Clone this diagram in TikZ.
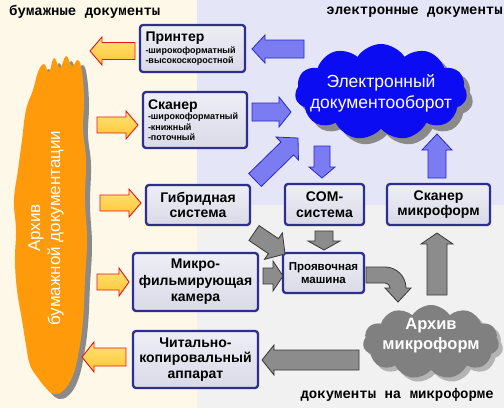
\documentclass[tikz,border=0pt]{standalone}
\usepackage{fontspec}
\setmainfont{Liberation Sans}
\setmonofont{Liberation Mono}
\usetikzlibrary{shapes.symbols,calc}

\definecolor{cream}{HTML}{FDF8E8}
\definecolor{lav}{HTML}{E4E6F8}
\definecolor{lgray}{HTML}{F1F1F1}
\definecolor{boxtop}{HTML}{EEEEF6}
\definecolor{boxbot}{HTML}{DADAE8}
\definecolor{boxborder}{HTML}{2E2E8E}
\definecolor{eblue}{HTML}{0C0CF2}
\definecolor{shadowgray}{HTML}{8A8A8A}
\definecolor{bfill}{HTML}{7C7CF2}
\definecolor{bdraw}{HTML}{2828C8}
\definecolor{gfill}{HTML}{8C8C8C}
\definecolor{gdraw}{HTML}{383838}
\definecolor{orangearch}{HTML}{FF9A0A}
\definecolor{mfgray}{HTML}{808080}
\definecolor{mfshadow}{HTML}{B4B4B4}
\definecolor{ytop}{HTML}{FFE27A}
\definecolor{ybot}{HTML}{FFC630}
\definecolor{yred}{HTML}{E8141A}

% block arrow: style, tail, tip, shaft half width, head half width, head length
\newcommand\blockarrow[6]{%
  \path[#1] let \p1=#2, \p2=#3,
     \n1={atan2((\y2)-(\y1),(\x2)-(\x1))},
     \n2={veclen((\x2)-(\x1),(\y2)-(\y1))} in
     [shift={(\p1)}, rotate=\n1]
     (0pt,-#4pt) -- (\n2-#6pt,-#4pt) -- (\n2-#6pt,-#5pt) -- (\n2,0pt)
     -- (\n2-#6pt,#5pt) -- (\n2-#6pt,#4pt) -- (0pt,#4pt) -- cycle;}

\begin{document}
\begin{tikzpicture}[x=1pt,y=-1pt,
  box/.style={draw=boxborder, line width=2.3pt, rounded corners=3pt,
    top color=boxtop, bottom color=boxbot, inner sep=0pt, align=center,
    font=\bfseries\fontsize{14}{15.5}\selectfont},
  listbox/.style={box, align=left, font=\bfseries\fontsize{9}{10.2}\selectfont},
  mono/.style={inner sep=0pt, font=\ttfamily\bfseries\fontsize{14}{14}\selectfont},
  yarrow/.style={draw=yred, line width=0.9pt, top color=ytop, bottom color=ybot},
  barrow/.style={draw=bdraw, line width=0.8pt, fill=bfill},
  garrow/.style={draw=gdraw, line width=0.8pt, fill=gfill},
  cloudbase/.style={cloud, cloud puffs=11, cloud puff arc=115, cloud ignores aspect, inner sep=0pt}
]
\useasboundingbox (0,0) rectangle (504,408);
% backgrounds
\fill[cream] (0,0) rectangle (197,408);
\fill[lav] (197,0) rectangle (504,205);
\fill[lgray] (197,205) rectangle (504,408);

% region labels
\node[mono, anchor=west] (lblpaper) at (9,12) {бумажные документы};
\node[mono, anchor=east] (lblelec) at (503,12) {электронные документы};
\node[mono, anchor=east] (lblmf) at (494,395) {документы на микроформе};

% paper archive
\fill[shadowgray, shift={(5,5)}] plot[smooth cycle, tension=0.7] coordinates {
 (33,90) (38,72) (44,64) (49,72) (54,58) (60,68) (66,56) (72,66) (78,60) (82,72)
 (84,100) (83,130) (86,160) (85,200) (87,240) (85,280) (83,320) (79,350) (73,375)
 (64,390) (54,394) (46,388) (38,378) (30,365) (26,345) (22,320) (17,290) (15,260)
 (16,230) (14,200) (18,170) (22,140) (26,110)};
\fill[orangearch] plot[smooth cycle, tension=0.7] coordinates {
 (33,90) (38,72) (44,64) (49,72) (54,58) (60,68) (66,56) (72,66) (78,60) (82,72)
 (84,100) (83,130) (86,160) (85,200) (87,240) (85,280) (83,320) (79,350) (73,375)
 (64,390) (54,394) (46,388) (38,378) (30,365) (26,345) (22,320) (17,290) (15,260)
 (16,230) (14,200) (18,170) (22,140) (26,110)};
\node[rotate=90, text=white, align=center, font=\fontsize{17}{20}\selectfont] (paperarch) at (46,228)
  {Архив\\бумажной документации};

% electronic cloud
\node[cloudbase, fill=shadowgray, minimum width=172, minimum height=96] (eshadow) at (387,98) {};
\node[cloudbase, fill=eblue, minimum width=172, minimum height=96] (ecloud) at (381,92) {};
\node[text=white, align=center, font=\fontsize{17.5}{21}\selectfont] (etext) at (381,93)
  {Электронный\\документооборот};

% microform cloud
\node[cloudbase, fill=mfshadow, minimum width=136, minimum height=74] (mshadow) at (435,346) {};
\node[cloudbase, fill=mfgray, minimum width=136, minimum height=74] (mcloud) at (431,342) {};
\node[text=white, align=center, font=\bfseries\fontsize{16.5}{20}\selectfont] (mtext) at (431,336)
  {Архив\\микроформ};

% boxes
\node[listbox, minimum width=105, minimum height=47, text width=94] (printer) at (192.5,48.5)
  {{\fontsize{14}{14}\selectfont Принтер}\\[1.5pt]-широкоформатный\\-высокоскоростной};
\node[listbox, minimum width=104, minimum height=56, text width=94] (scanner) at (195,120)
  {{\fontsize{14}{14}\selectfont Сканер}\\[0.5pt]-широкоформатный\\-книжный\\-поточный};
\node[box, minimum width=104, minimum height=40] (hybrid) at (198,205) {Гибридная\\система};
\node[box, minimum width=79, minimum height=41] (com) at (324.5,204.5) {COM-\\система};
\node[box, minimum width=103, minimum height=41] (scanmf) at (438.5,204.5) {Сканер\\микроформ};
\node[box, minimum width=125, minimum height=58, font=\bfseries\fontsize{14}{16.5}\selectfont] (camera) at (195.5,282)
  {Микро-\\фильмирующая\\камера};
\node[box, minimum width=81, minimum height=40, font=\bfseries\fontsize{11.5}{12.5}\selectfont] (develop) at (323.5,273)
  {Проявочная\\машина};
\node[box, minimum width=125, minimum height=57] (reader) at (195.5,359.5)
  {Читально-\\копировальный\\аппарат};

% yellow arrows
\blockarrow{yarrow}{(135,51)}{(90,51)}{8.5}{14}{12}
\blockarrow{yarrow}{(97,125)}{(138,125)}{8}{14}{12}
\blockarrow{yarrow}{(100,203)}{(141,203)}{8}{14}{12}
\blockarrow{yarrow}{(97,282)}{(129,282)}{8}{14}{10}
\blockarrow{yarrow}{(126,357)}{(82,357)}{9}{15}{12}

% blue arrows
\blockarrow{barrow}{(304,49)}{(252,49)}{9}{14}{13}
\blockarrow{barrow}{(252,112)}{(291,112)}{9}{15}{12}
\blockarrow{barrow}{(255,180)}{(298,138)}{9}{16}{15}
\blockarrow{barrow}{(322,146)}{(322,178)}{8}{13}{11}
\blockarrow{barrow}{(437,178)}{(437,134)}{9}{15}{16}

% gray arrows
\blockarrow{garrow}{(254,233)}{(285,254)}{9}{16}{14}
\blockarrow{garrow}{(324,231)}{(324,250)}{9}{16}{9}
\blockarrow{garrow}{(263,276)}{(283,276)}{8}{15}{10}
\blockarrow{garrow}{(437,295)}{(437,233)}{10}{16}{11}
\blockarrow{garrow}{(359,360)}{(262,360)}{10}{15}{12}
\path[garrow] (366,267) -- (385,267) arc[start angle=90, end angle=0, radius=21pt]
  -- (411,288) -- (398,302) -- (385,288) -- (390,288)
  arc[start angle=0, end angle=90, radius=5pt] -- (366,283) -- cycle;
\end{tikzpicture}
\end{document}
